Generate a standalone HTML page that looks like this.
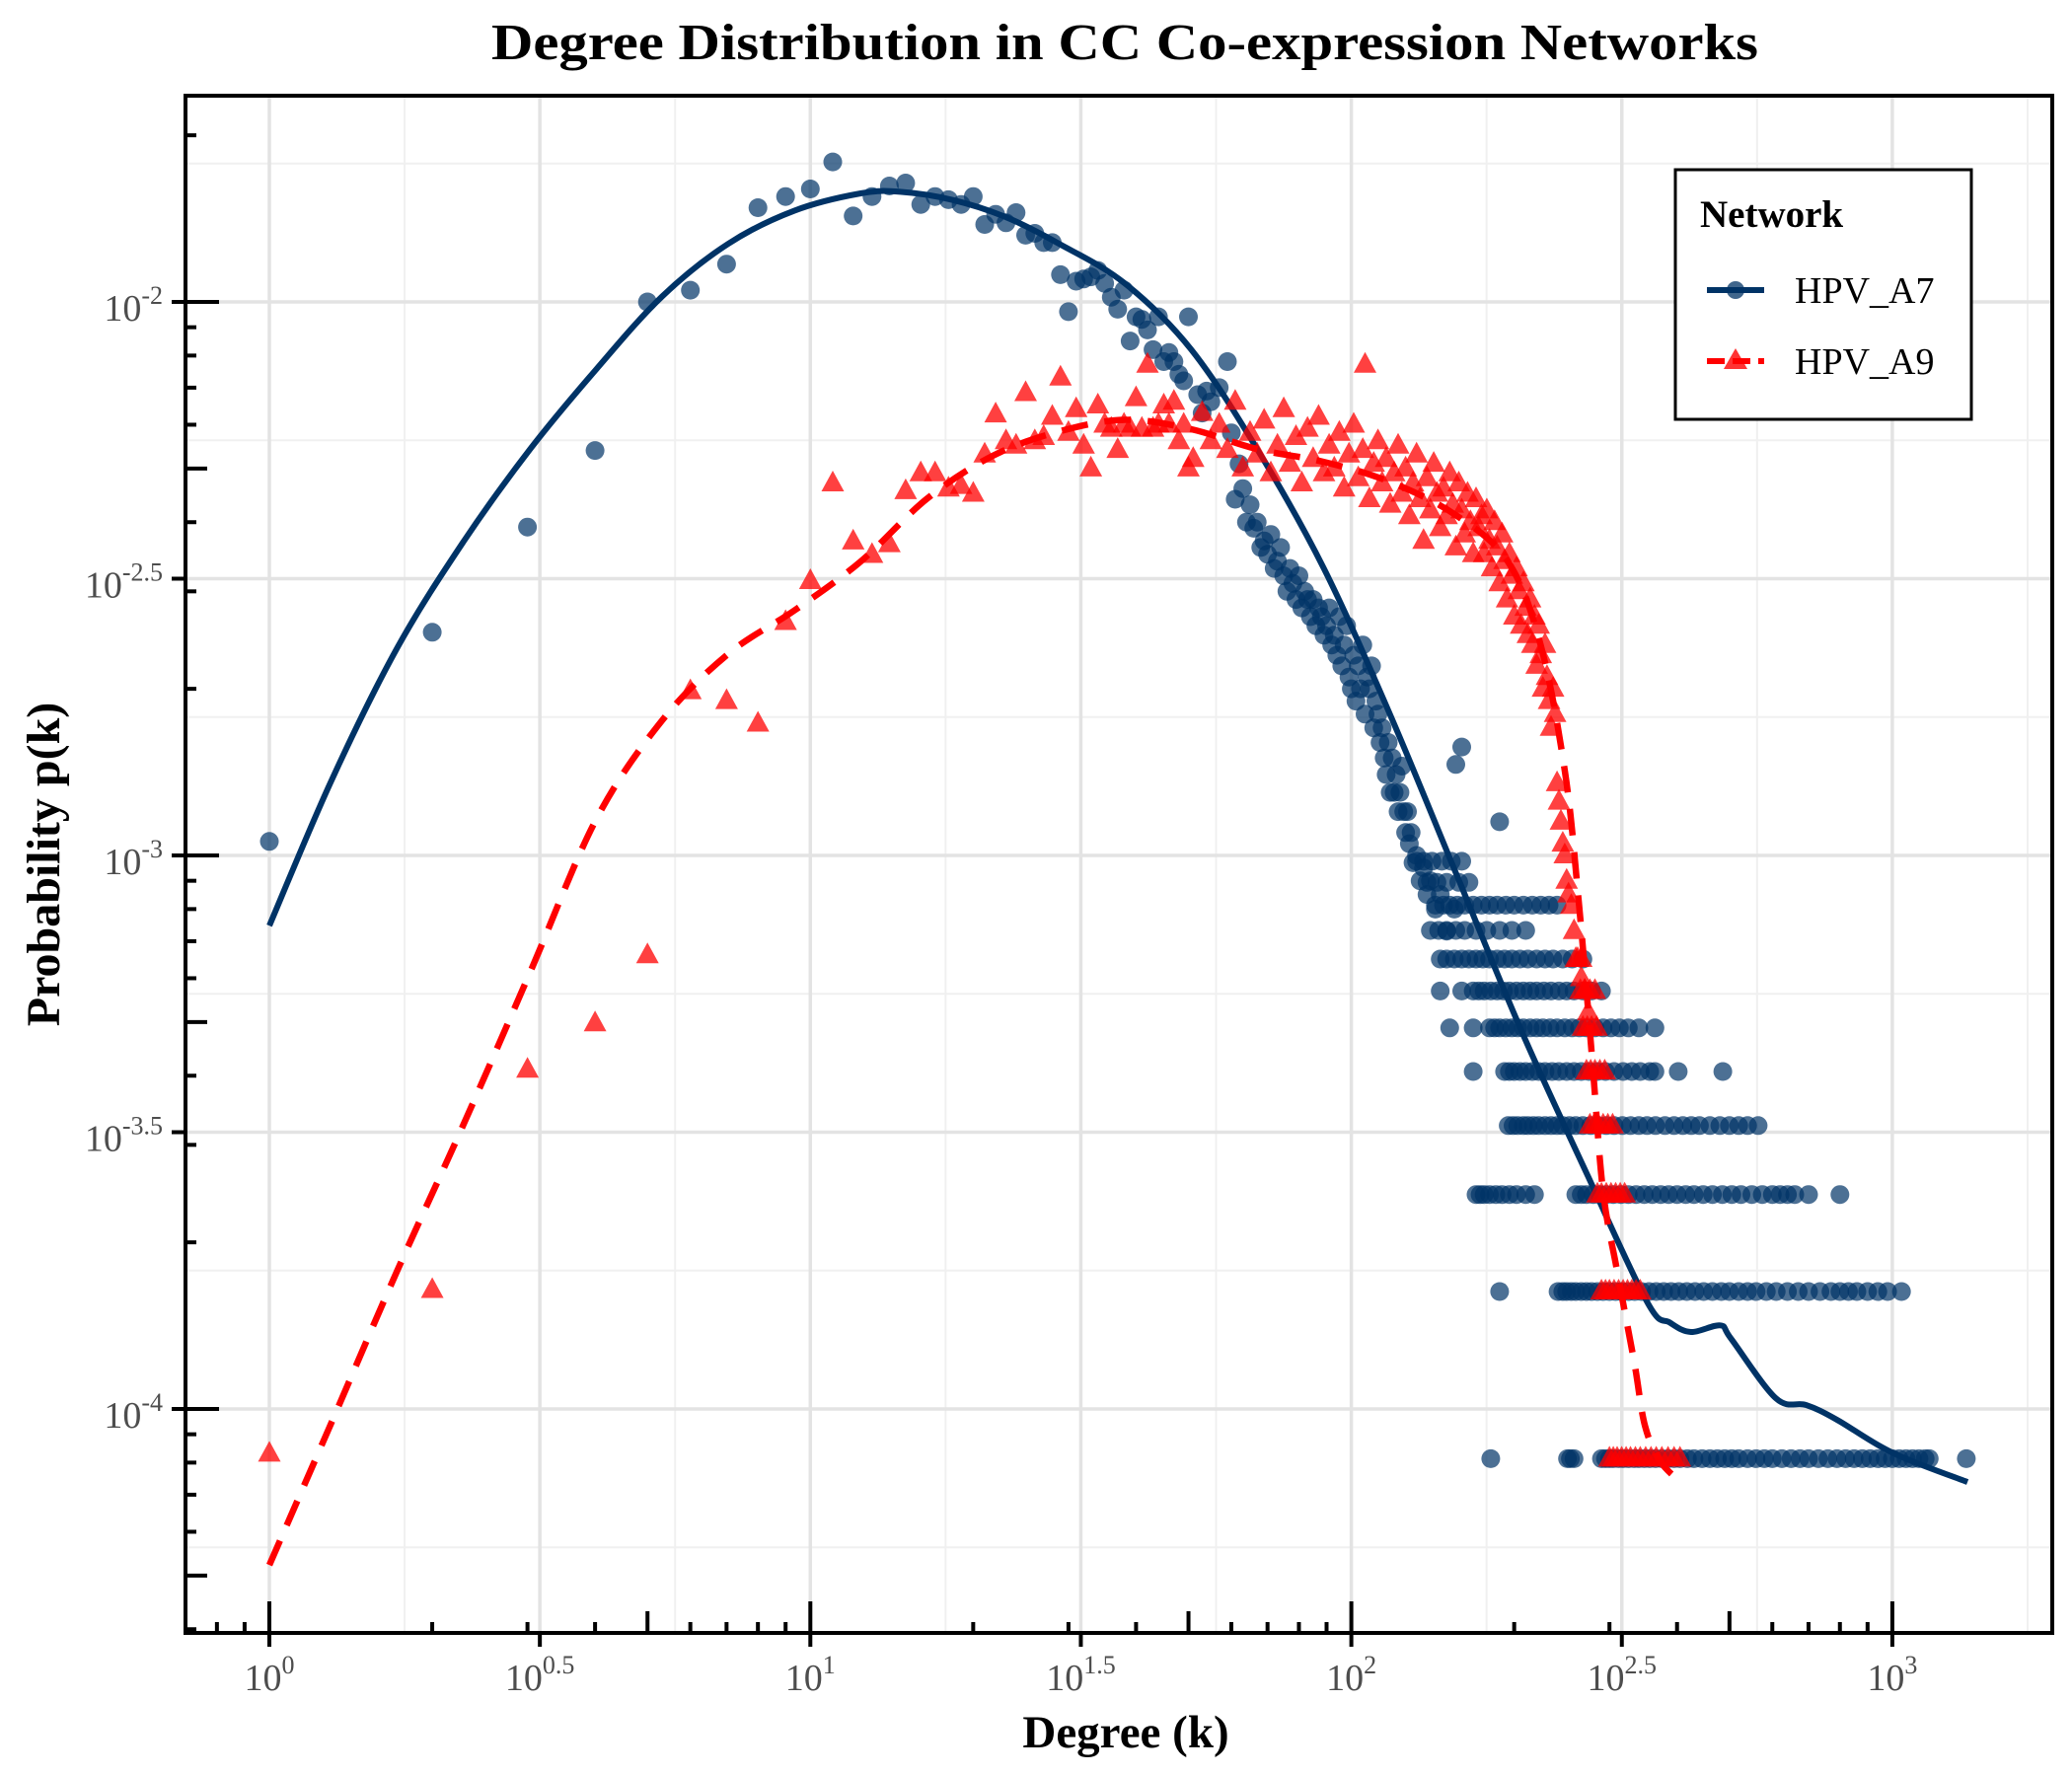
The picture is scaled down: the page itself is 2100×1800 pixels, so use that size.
<!DOCTYPE html>
<html><head><meta charset="utf-8"><style>
html,body{margin:0;padding:0;background:#fff;}
svg{display:block;}
text{font-family:"Liberation Serif",serif;}
</style></head><body>
<svg id="chart" width="2100" height="1800" viewBox="0 0 2100 1800" xmlns="http://www.w3.org/2000/svg">
<defs><clipPath id="plotclip"><rect x="188" y="97" width="1892" height="1558"/></clipPath></defs>
<rect x="0" y="0" width="2100" height="1800" fill="#fff"/>
<g id="grid"></g>
<g id="series" clip-path="url(#plotclip)"></g>
<rect x="188" y="97" width="1892" height="1558" fill="none" stroke="#000" stroke-width="4"/>
<g id="axes"></g>
<text x="1140" y="60" text-anchor="middle" font-size="52" font-weight="bold" textLength="1284" lengthAdjust="spacingAndGlyphs">Degree Distribution in CC Co-expression Networks</text>
<text x="1141" y="1771" text-anchor="middle" font-size="47" font-weight="bold">Degree (k)</text>
<text x="0" y="0" transform="translate(60,876) rotate(-90)" text-anchor="middle" font-size="48" font-weight="bold">Probability p(k)</text>
<g>
<rect x="1698" y="172" width="300" height="253" fill="#fff" stroke="#000" stroke-width="3"/>
<text x="1723" y="230" font-size="39" font-weight="bold">Network</text>
<g>
<line x1="1730" y1="294" x2="1788" y2="294" stroke="#003366" stroke-width="6"/>
<circle cx="1759" cy="294" r="9" fill="#003366" fill-opacity="0.75"/>
<text x="1819" y="307" font-size="38" fill="#000">HPV_A7</text></g>
<g>
<line x1="1730" y1="366" x2="1788" y2="366" stroke="#ff0000" stroke-width="6" stroke-dasharray="18 8"/>
<polygon points="1759,353 1771,374 1747,374" fill="#ff0000" fill-opacity="0.8"/>
<text x="1819" y="379" font-size="38" fill="#000">HPV_A9</text></g>
</g>
</svg>
<script>
// ---- data ----
const a7Deg = [1,2,3,4,5,6,7,8,9,10,11,12,13,14,15,16,17,18,19,20,21,22,23,24,25,26,27,28,29,30,31,32,33,34,35,36,37,38,39,40,41,42,43,44,45,46,47,48,49,50,52,53,54,55,57,59,60];
const a7Prob = [1.06e-3,2.53e-3,3.92e-3,5.39e-3,1.0e-2,1.05e-2,1.17e-2,1.48e-2,1.55e-2,1.60e-2,1.79e-2,1.43e-2,1.55e-2,1.62e-2,1.64e-2,1.50e-2,1.55e-2,1.53e-2,1.50e-2,1.55e-2,1.38e-2,1.44e-2,1.39e-2,1.45e-2,1.32e-2,1.33e-2,1.28e-2,1.28e-2,1.12e-2,9.6e-3,1.09e-2,1.1e-2,1.11e-2,1.14e-2,1.08e-2,1.02e-2,9.7e-3,1.05e-2,8.5e-3,9.4e-3,9.3e-3,8.9e-3,8.2e-3,9.4e-3,7.8e-3,8.1e-3,7.8e-3,7.4e-3,7.2e-3,9.4e-3,6.8e-3,6.3e-3,6.9e-3,6.6e-3,7.0e-3,7.8e-3,5.8e-3];
const a7MidDeg = [61,62,63,64,65,66,67,68,69,70,71,72,73,74,75,76,77,78,79,80,81,82,83,84,85,86,87,88,89,90,91,92,93,94,95,96,97,98,99,100,101,102,103,104,105,106,107,108,109,110,111,112,113,114,115,116,117,118,119,120,121,122,123,124,125,126,127,128,129,130,132,134,136,138,140,143,146,150,155,156,160,188];
const a7MidProb = [4.4e-3,5.1e-3,4.6e-3,4.0e-3,4.3e-3,3.9e-3,4.0e-3,3.6e-3,3.7e-3,3.5e-3,3.8e-3,3.3e-3,3.4e-3,3.6e-3,3.2e-3,3.0e-3,3.3e-3,3.1e-3,2.9e-3,3.2e-3,2.8e-3,3.0e-3,2.9e-3,2.7e-3,2.9e-3,2.6e-3,2.8e-3,2.7e-3,2.5e-3,2.6e-3,2.8e-3,2.4e-3,2.5e-3,2.3e-3,2.7e-3,2.2e-3,2.4e-3,2.6e-3,2.1e-3,2.0e-3,2.3e-3,1.9e-3,2.2e-3,2.0e-3,2.4e-3,1.8e-3,2.1e-3,2.0e-3,2.2e-3,1.7e-3,1.9e-3,1.8e-3,1.6e-3,1.7e-3,1.5e-3,1.4e-3,1.6e-3,1.3e-3,1.5e-3,1.3e-3,1.4e-3,1.2e-3,1.3e-3,1.45e-3,1.2e-3,1.1e-3,1.2e-3,1.05e-3,1.1e-3,0.97e-3,1.0e-3,0.9e-3,0.95e-3,0.85e-3,0.9e-3,0.8e-3,0.85e-3,0.73e-3,0.8e-3,1.46e-3,1.57e-3,1.15e-3];
const rowProb = [8.13e-5,1.63e-4,2.44e-4,3.25e-4,4.07e-4,4.88e-4,5.69e-4,6.5e-4,7.32e-4,8.13e-4,8.94e-4,9.76e-4];
const a7Row1 = [181,251,254,258,290,295,300,305,312,318,325,333,340,348,356,365,375,385,395,405,418,430,445,460,475,490,505,520,540,560,580,600,625,650,675,700,730,760,790,820,850,880,910,940,970,1000,1030,1060,1090,1120,1150,1170,1370];
const a7Row2 = [188,241,246,250,255,260,266,272,278,285,292,300,308,316,325,334,344,355,366,378,390,403,417,432,448,465,483,500,520,540,560,585,610,640,670,700,735,770,800,830,860,900,940,980,1040];
const a7Row3 = [170,173,176,180,185,190,196,202,210,218,260,266,272,280,288,296,305,315,325,336,348,360,373,386,400,415,430,447,465,485,505,525,550,575,600,620,640,660,700,800];
const a7Row4 = [195,199,203,208,212,217,222,228,234,240,246,253,260,268,277,286,296,306,317,328,340,352,365,380,395,410,425,440,460,480,500,520,540,565];
const a7Row5 = [168,192,196,200,205,210,216,222,228,235,242,250,258,266,275,285,295,306,318,330,342,356,364,402,486];
const a7Row6 = [152,168,180,184,188,193,198,203,208,214,220,226,233,240,248,256,264,272,282,292,302,313,325,340,364];
const a7Row7 = [146,160,168,172,176,181,186,191,196,202,208,214,220,227,234,242,250,258,268,278,290];
const a7Row8 = [146,150,155,160,165,170,175,180,186,192,198,205,212,220,228,236,246,256,268];
const a7Row9 = [140,145,150,156,162,170,178,188,198,210];
const a7Row10 = [143,148,152,157,162,168,174,180,186,193,200,208,216,224,232,240];
const a7Row11 = [138,144,150,158,165];
const a7Row12 = [132,136,141,147,153,160];

const a9Deg = [1,2,3,4,5,6,7,8,9,10,11,12,13,14,15,16,17,18,19,20,21,22,23,24,25,26,27,28,29,30,31,32,33,34,35,36,37,38,39,40,41,42,43,44,45,46,47,48,49,50];
const a9Prob = [8.3e-5,1.64e-4,4.1e-4,4.97e-4,6.6e-4,1.98e-3,1.9e-3,1.73e-3,2.64e-3,3.13e-3,4.7e-3,3.69e-3,3.49e-3,3.65e-3,4.55e-3,4.9e-3,4.9e-3,4.6e-3,4.65e-3,4.5e-3,5.3e-3,6.26e-3,5.6e-3,5.5e-3,6.84e-3,5.6e-3,5.7e-3,6.2e-3,7.3e-3,5.8e-3,6.4e-3,5.5e-3,5.0e-3,6.5e-3,6.0e-3,5.9e-3,5.4e-3,6.0e-3,5.9e-3,6.7e-3,5.9e-3,7.7e-3,5.9e-3,6.0e-3,6.5e-3,6.0e-3,6.6e-3,5.6e-3,6.0e-3,5.0e-3];
const a9MidDeg = [51,53,55,57,59,61,63,65,67,69,71,73,75,77,79,81,83,85,87,89,91,93,95,97,99,101,103,105,106,108,110,112,114,116,118,120,122,124,126,128,130,132,134,136,138,140,142,144,146,148,150,152,154,156,158,160,162,164,166,168];
const a9MidProb = [5.2e-3,6.3e-3,5.6e-3,6.0e-3,5.4e-3,6.6e-3,5.0e-3,5.8e-3,5.3e-3,6.1e-3,4.9e-3,5.5e-3,6.4e-3,5.1e-3,5.7e-3,4.7e-3,5.9e-3,5.2e-3,6.2e-3,4.9e-3,5.5e-3,5.0e-3,5.8e-3,4.6e-3,5.3e-3,6.0e-3,4.8e-3,5.4e-3,7.7e-3,4.4e-3,5.1e-3,5.6e-3,4.7e-3,5.2e-3,4.3e-3,4.9e-3,5.5e-3,4.5e-3,5.0e-3,4.1e-3,4.7e-3,5.3e-3,4.4e-3,3.7e-3,4.8e-3,4.2e-3,5.1e-3,4.5e-3,3.9e-3,4.6e-3,4.1e-3,4.9e-3,4.3e-3,3.6e-3,4.7e-3,4.2e-3,3.8e-3,4.5e-3,4.0e-3,3.5e-3];
const a9HiDeg = [170,172,174,176,178,180,182,184,186,188,190,192,194,196,198,200,202,204,206,208,210,212,214,216,218,220,222,224,226,228,230,232,234,236,238,240,242,244,246,248,250,252,255,258,262,266,270,274];
const a9HiProb = [4.4e-3,3.9e-3,4.1e-3,3.5e-3,4.2e-3,3.7e-3,3.3e-3,4.0e-3,3.6e-3,3.1e-3,3.8e-3,3.4e-3,2.9e-3,3.5e-3,3.2e-3,2.7e-3,3.3e-3,3.0e-3,2.6e-3,3.1e-3,2.8e-3,2.5e-3,2.9e-3,2.4e-3,2.7e-3,2.2e-3,2.6e-3,2.3e-3,2.0e-3,2.4e-3,2.1e-3,1.9e-3,1.7e-3,2.0e-3,1.8e-3,1.35e-3,1.25e-3,1.15e-3,1.05e-3,1.0e-3,9.0e-4,8.5e-4,8.1e-4,7.3e-4,6.5e-4,6.0e-4,5.7e-4,5.2e-4];
const a9Row1 = [300,305,310,316,322,328,335,342,350,358,366,375,385,395,405];
const a9Row2 = [290,295,300,306,312,318,324,330,336,342];
const a9Row3 = [285,290,296,302,308,314,320];
const a9Row4 = [276,281,286,292,298,304];
const a9Row5 = [272,277,282,288,294];
const a9Row6 = [268,273,278,284];
const a9Row7 = [265,270,276,282];
const a9Row8 = [260,266];

const a7FitLogDeg = [0,0.115,0.237,0.359,0.482,0.604,0.726,0.848,0.971,1.093,1.166,1.264,1.362,1.460,1.582,1.704,1.826,1.949,2.071,2.193,2.315,2.438,2.548,2.589,2.628,2.682,2.702,2.785,2.841,2.897,3.000,3.139];
const a7FitLogProb = [-3.127,-2.864,-2.624,-2.433,-2.266,-2.122,-1.990,-1.895,-1.835,-1.804,-1.801,-1.816,-1.847,-1.895,-1.967,-2.086,-2.266,-2.481,-2.744,-3.031,-3.318,-3.581,-3.809,-3.844,-3.861,-3.849,-3.873,-3.981,-3.993,-4.019,-4.079,-4.132];
const a9FitLogDeg = [0,0.115,0.237,0.359,0.482,0.604,0.726,0.848,0.971,1.093,1.215,1.337,1.460,1.582,1.704,1.826,1.949,2.071,2.193,2.290,2.350,2.395,2.420,2.445,2.465,2.491,2.523,2.543,2.572,2.614];
const a9FitLogProb = [-4.282,-4.024,-3.749,-3.486,-3.211,-2.935,-2.756,-2.636,-2.557,-2.469,-2.356,-2.278,-2.234,-2.213,-2.230,-2.266,-2.289,-2.325,-2.385,-2.47,-2.62,-2.85,-3.08,-3.366,-3.605,-3.749,-3.916,-4.031,-4.096,-4.136];

const xTickLabels = ["0","0.5","1","1.5","2","2.5","3"];
const yTickLabels = ["-2","-2.5","-3","-3.5","-4"];

// ---- scales ----
const X0 = 273, XD = 548.3, Y0 = 306, YD = 561;
const xLog = l => X0 + XD * l;
const yLog = l => Y0 + YD * (-2 - l);
const xS = k => xLog(Math.log10(k));
const yS = p => yLog(Math.log10(p));
const NS = "http://www.w3.org/2000/svg";
function mk(tag, attrs, parent) {
  const e = document.createElementNS(NS, tag);
  for (const k in attrs) e.setAttribute(k, attrs[k]);
  parent.appendChild(e);
  return e;
}
const grid = document.getElementById('grid');
const series = document.getElementById('series');
const axes = document.getElementById('axes');

for (let l = 0.25; l <= 3.3; l += 0.5) { const g = mk('line', {x1: xLog(l), x2: xLog(l), y1: 97, y2: 1655, stroke: '#f0f0f0', 'stroke-width': 2}, grid);   }
for (let l = -1.75; l >= -4.3; l -= 0.5) { const g = mk('line', {x1: 188, x2: 2080, y1: yLog(l), y2: yLog(l), stroke: '#f0f0f0', 'stroke-width': 2}, grid);   }
xTickLabels.forEach(t => { const l = parseFloat(t); const g = mk('line', {x1: xLog(l), x2: xLog(l), y1: 97, y2: 1655, stroke: '#e3e3e3', 'stroke-width': 3.5}, grid);   });
yTickLabels.forEach(t => { const l = parseFloat(t); const g = mk('line', {x1: 188, x2: 2080, y1: yLog(l), y2: yLog(l), stroke: '#e3e3e3', 'stroke-width': 3.5}, grid);   });

const AX = 1655, AY = 188;
for (let d = -1; d <= 3; d++) for (let m = 1; m <= 9; m++) {
  const l = d + Math.log10(m); const x = xLog(l);
  if (x < 190 || x > 2078) continue;
  const len = m === 1 ? 32 : (m === 5 ? 22 : 11);
  const t = mk('line', {x1: x, x2: x, y1: AX - len, y2: AX + (m === 1 ? 14 : 0), stroke: '#000', 'stroke-width': 4}, axes);
   
}
for (let d = -5; d <= -1; d++) for (let m = 1; m <= 9; m++) {
  const l = d + Math.log10(m); const y = yLog(l);
  if (y < 99 || y > 1653) continue;
  const len = m === 1 ? 34 : (m === 5 ? 22 : 11);
  const t = mk('line', {x1: AY - (m === 1 ? 14 : 0), x2: AY + len, y1: y, y2: y, stroke: '#000', 'stroke-width': 4}, axes);
   
}
xTickLabels.forEach(lab => {
  const l = parseFloat(lab); const x = xLog(l);
  if (lab.indexOf('.') >= 0) { const t = mk('line', {x1: x, x2: x, y1: AX, y2: AX + 14, stroke: '#000', 'stroke-width': 4}, axes);   }
  const tx = mk('text', {x: x, y: 1713, 'text-anchor': 'middle', 'font-size': 38, fill: '#4d4d4d'}, axes);
   
  tx.appendChild(document.createTextNode('10'));
  const s = mk('tspan', {dy: -17, 'font-size': 26}, tx); s.textContent = lab;
});
yTickLabels.forEach(lab => {
  const l = parseFloat(lab); const y = yLog(l);
  if (lab.indexOf('.') >= 0) { const t = mk('line', {x1: AY - 14, x2: AY, y1: y, y2: y, stroke: '#000', 'stroke-width': 4}, axes);   }
  const tx = mk('text', {x: 165, y: y + 19, 'text-anchor': 'end', 'font-size': 38, fill: '#4d4d4d'}, axes);
   
  tx.appendChild(document.createTextNode('10'));
  const s = mk('tspan', {dy: -17, 'font-size': 26}, tx); s.textContent = lab;
});

// smooth path (Catmull-Rom)
function fitPath(ld, lp) {
  const P = ld.map((v, i) => [xLog(v), yLog(lp[i])]);
  let d = 'M' + P[0][0].toFixed(1) + ',' + P[0][1].toFixed(1);
  for (let i = 0; i < P.length - 1; i++) {
    const p0 = P[Math.max(0, i - 1)], p1 = P[i], p2 = P[i + 1], p3 = P[Math.min(P.length - 1, i + 2)];
    const c1 = [p1[0] + (p2[0] - p0[0]) / 6, p1[1] + (p2[1] - p0[1]) / 6];
    const c2 = [p2[0] - (p3[0] - p1[0]) / 6, p2[1] - (p3[1] - p1[1]) / 6];
    d += ' C' + c1[0].toFixed(1) + ',' + c1[1].toFixed(1) + ' ' + c2[0].toFixed(1) + ',' + c2[1].toFixed(1) + ' ' + p2[0].toFixed(1) + ',' + p2[1].toFixed(1);
  }
  return d;
}

const a7g = mk('g', {fill: '#003366', 'fill-opacity': 0.7}, series);
 
function dot(k, p) { const c = mk('circle', {cx: xS(k).toFixed(1), cy: yS(p).toFixed(1), r: 9.5}, a7g);   }
a7Deg.forEach((k, i) => dot(k, a7Prob[i]));
a7MidDeg.forEach((k, i) => dot(k, a7MidProb[i]));
[a7Row1, a7Row2, a7Row3, a7Row4, a7Row5, a7Row6, a7Row7, a7Row8, a7Row9, a7Row10, a7Row11, a7Row12].forEach((row, r) => row.forEach(k => dot(k, rowProb[r])));

const f7 = mk('path', {d: fitPath(a7FitLogDeg, a7FitLogProb), fill: 'none', stroke: '#003366', 'stroke-width': 6, 'stroke-linejoin': 'round'}, series);
 

const a9g = mk('g', {fill: '#ff0000', 'fill-opacity': 0.75}, series);
 
function tri(k, p) { const x = xS(k), y = yS(p); const t = mk('polygon', {points: `${x.toFixed(1)},${(y - 13).toFixed(1)} ${(x + 11.5).toFixed(1)},${(y + 8).toFixed(1)} ${(x - 11.5).toFixed(1)},${(y + 8).toFixed(1)}`}, a9g);   }
a9Deg.forEach((k, i) => tri(k, a9Prob[i]));
a9MidDeg.forEach((k, i) => tri(k, a9MidProb[i]));
a9HiDeg.forEach((k, i) => tri(k, a9HiProb[i]));
[a9Row1, a9Row2, a9Row3, a9Row4, a9Row5, a9Row6, a9Row7, a9Row8].forEach((row, r) => row.forEach(k => tri(k, rowProb[r])));

const f9 = mk('path', {d: fitPath(a9FitLogDeg, a9FitLogProb), fill: 'none', stroke: '#ff0000', 'stroke-width': 6.5, 'stroke-dasharray': '27 17'}, series);
 
</script>
</body></html>
